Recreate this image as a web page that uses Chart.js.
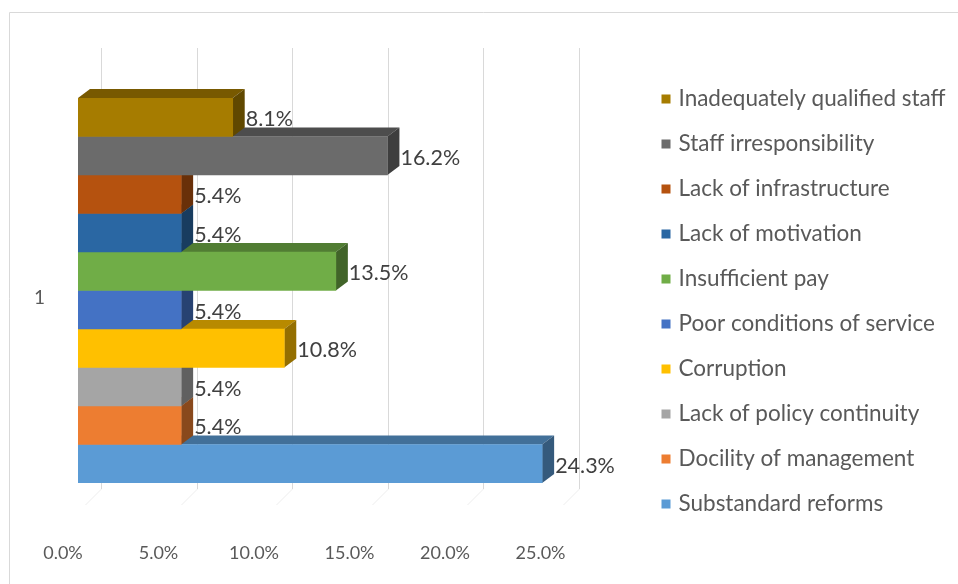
<!DOCTYPE html>
<html>
<head>
<meta charset="utf-8">
<title>Causes</title>
<script src="https://cdn.jsdelivr.net/npm/chart.js@4.4.1/dist/chart.umd.min.js"></script>
<style>
  html, body { margin: 0; padding: 0; background: #fff; }
  canvas { display: block; }
</style>
</head>
<body>
<canvas id="causesChart" width="958" height="584"></canvas>
<script>
const categories = ['1'];
const causes = [
  'Inadequately qualified staff',
  'Staff irresponsibility',
  'Lack of infrastructure',
  'Lack of motivation',
  'Insufficient pay',
  'Poor conditions of service',
  'Corruption',
  'Lack of policy continuity',
  'Docility of management',
  'Substandard reforms',
];
const shares = [8.1, 16.2, 5.4, 5.4, 13.5, 5.4, 10.8, 5.4, 5.4, 24.3];
const barColors = [
  '#a67c00', '#6b6b6b', '#b5520f', '#2a67a3', '#70ad47',
  '#4472c4', '#ffc000', '#a5a5a5', '#ed7d31', '#5b9bd5',
];
const xMax = 25;
const xStep = 5;

const FONT = 'Lato, "Open Sans", sans-serif';
const TEXT_COLOR = '#595959';
const DEPTH_X = 12;   // bar depth, projected
const DEPTH_Y = 9;
const WALL_X = 23;    // back wall offset from bar fronts
const WALL_TOP = 50;

function shade(hex, f) {
  const n = parseInt(hex.slice(1), 16);
  const r = Math.round(((n >> 16) & 255) * f);
  const g = Math.round(((n >> 8) & 255) * f);
  const b = Math.round((n & 255) * f);
  return `rgb(${r},${g},${b})`;
}

// light frame around the chart + back wall gridlines
const wallPlugin = {
  id: 'wall',
  beforeDraw(chart) {
    const ctx = chart.ctx;
    ctx.save();
    ctx.strokeStyle = '#d9d9d9';
    ctx.lineWidth = 1;
    ctx.beginPath();
    ctx.moveTo(9.5, chart.height);
    ctx.lineTo(9.5, 12.5);
    ctx.lineTo(chart.width, 12.5);
    ctx.stroke();
    ctx.restore();
  },
  beforeDatasetsDraw(chart) {
    const ctx = chart.ctx;
    const xs = chart.scales.x;
    const area = chart.chartArea;
    const top = area.top - WALL_TOP;
    const floor = area.bottom + 6;
    ctx.save();
    ctx.lineWidth = 1;
    ctx.strokeStyle = '#d9d9d9';
    ctx.beginPath();
    xs.ticks.forEach(t => {
      const px = Math.round(xs.getPixelForValue(t.value) + WALL_X) + 0.5;
      ctx.moveTo(px, top);
      ctx.lineTo(px, floor);
    });
    ctx.stroke();
    ctx.strokeStyle = '#ededed';
    ctx.beginPath();
    xs.ticks.forEach(t => {
      const px = Math.round(xs.getPixelForValue(t.value) + WALL_X) + 0.5;
      ctx.moveTo(px, floor);
      ctx.lineTo(px - 16, floor + 16);
    });
    ctx.stroke();
    ctx.restore();
  },
};

// top and side faces of each bar, drawn just before its front face
const depthPlugin = {
  id: 'depth',
  beforeDatasetDraw(chart, args) {
    const ctx = chart.ctx;
    const color = chart.data.datasets[args.index].backgroundColor;
    ctx.save();
    args.meta.data.forEach(bar => {
      const { x, y, base, height } = bar.getProps(['x', 'y', 'base', 'height'], true);
      const top = y - height / 2;
      const bottom = y + height / 2;
      ctx.fillStyle = shade(color, 0.72);
      ctx.beginPath();
      ctx.moveTo(base, top);
      ctx.lineTo(base + DEPTH_X, top - DEPTH_Y);
      ctx.lineTo(x + DEPTH_X, top - DEPTH_Y);
      ctx.lineTo(x, top);
      ctx.closePath();
      ctx.fill();
      ctx.fillStyle = shade(color, 0.58);
      ctx.beginPath();
      ctx.moveTo(x, top);
      ctx.lineTo(x + DEPTH_X, top - DEPTH_Y);
      ctx.lineTo(x + DEPTH_X, bottom - DEPTH_Y);
      ctx.lineTo(x, bottom);
      ctx.closePath();
      ctx.fill();
    });
    ctx.restore();
  },
  afterDatasetsDraw(chart) {
    const ctx = chart.ctx;
    ctx.save();
    ctx.font = `21.5px ${FONT}`;
    ctx.fillStyle = '#404040';
    ctx.textBaseline = 'middle';
    ctx.textAlign = 'left';
    chart.data.datasets.forEach((ds, i) => {
      const meta = chart.getDatasetMeta(i);
      meta.data.forEach((bar, j) => {
        ctx.fillText(ds.data[j].toFixed(1) + '%', bar.x + DEPTH_X + 1, bar.y + 2);
      });
    });
    ctx.restore();
  },
};

// legend on the right, one row per cause
const legendPlugin = {
  id: 'sideLegend',
  afterDraw(chart) {
    const ctx = chart.ctx;
    const x = chart.chartArea.right + 106;
    let y = chart.chartArea.top + 1;
    ctx.save();
    ctx.font = `22.5px ${FONT}`;
    ctx.textBaseline = 'middle';
    chart.data.datasets.forEach(ds => {
      ctx.fillStyle = ds.backgroundColor;
      ctx.fillRect(x, y - 4.5, 9, 9);
      ctx.fillStyle = TEXT_COLOR;
      ctx.fillText(ds.label, x + 17, y);
      y += 45;
    });
    ctx.restore();
  },
};

const datasets = causes.map((name, i) => ({
  label: name,
  data: [shares[i]],
  backgroundColor: barColors[i],
  borderWidth: 0,
}));

new Chart(document.getElementById('causesChart'), {
  type: 'bar',
  data: { labels: categories, datasets },
  plugins: [wallPlugin, depthPlugin, legendPlugin],
  options: {
    responsive: false,
    animation: false,
    indexAxis: 'y',
    layout: { padding: { top: 98, right: 402.5, bottom: 0, left: 0 } },
    datasets: { bar: { barPercentage: 1, categoryPercentage: 1 } },
    scales: {
      x: {
        min: 0,
        max: xMax,
        grid: { display: false },
        border: { display: false },
        ticks: {
          stepSize: xStep,
          callback: v => v.toFixed(1) + '%',
          labelOffset: -15,
          padding: 51,
          color: TEXT_COLOR,
          font: { family: FONT, size: 18 },
          maxRotation: 0,
        },
        afterFit(scale) { scale.height = 101; },
      },
      y: {
        grid: { display: false },
        border: { display: false },
        ticks: {
          padding: 25,
          labelOffset: 7,
          color: TEXT_COLOR,
          font: { family: FONT, size: 19 },
        },
        afterFit(scale) { scale.width = 78; },
      },
    },
    plugins: {
      legend: { display: false },
      tooltip: { enabled: false },
    },
  },
});
</script>
</body>
</html>
